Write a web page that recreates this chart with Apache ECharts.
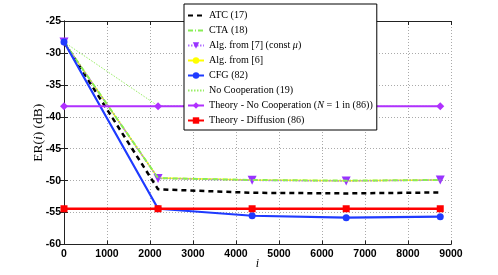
<!DOCTYPE html>
<html><head><meta charset="utf-8">
<script src="https://cdn.jsdelivr.net/npm/echarts@6/dist/echarts.min.js"></script>
<style>html,body{margin:0;padding:0;background:#fff}#c{width:498px;height:275px}</style>
</head><body><div id="c"></div>
<script>
const iterations = [0, 2187.5, 4375, 6562.5, 8750];
const atc = [-28.3, -51.35, -51.9, -52.0, -51.85];
const cta = [-28.3, -49.6, -49.9, -50.0, -49.9];
const alg7 = [-28.3, -49.65, -49.95, -50.05, -49.9];
const alg6 = [-28.3, -49.6, -49.9, -50.0, -49.9];
const cfg = [-28.3, -54.4, -55.5, -55.8, -55.65];
const noCoop = [-28.3, -38.3, -38.35, -38.35, -38.35];
const theoryNoCoop = [-38.35, -38.35, -38.35, -38.35, -38.35];
const theoryDiff = [-54.4, -54.4, -54.4, -54.4, -54.4];
const seriesNames = ['ATC (17)', 'CTA (18)', 'Alg. from [7] (const μ)', 'Alg. from [6]', 'CFG (82)', 'No Cooperation (19)', 'Theory - No Cooperation (N = 1 in (86))', 'Theory - Diffusion (86)'];
const xTicks = [0,1000,2000,3000,4000,5000,6000,7000,8000,9000];
const yTicks = [-60,-55,-50,-45,-40,-35,-30,-25];

const pts = arr => iterations.map((x,i)=>[x,arr[i]]);
const serifFont = '"Liberation Serif","DejaVu Serif",serif';
const tickFont = {fontFamily:'"Liberation Sans",Arial,sans-serif', fontWeight:'bold', fontSize:10.5, color:'#000'};

function mk(name, data, color, width, type, symbol, symbolSize, z){
  return {name, type:'line', data:pts(data), z, symbol: symbol||'circle', symbolSize: symbolSize||4,
    showSymbol: !!symbol, lineStyle:{color, width, type}, itemStyle:{color, borderWidth:0}, animation:false};
}
const series = [
  mk(seriesNames[0], atc, '#000000', 2.5, [5,4], null, 0, 2),
  mk(seriesNames[1], cta, '#88ee55', 2, [5,2,1,2], null, 0, 4),
  mk(seriesNames[2], alg7, '#b070ff', 1.5, [1.5,1.5], 'triangle', 9, 3),
  mk(seriesNames[3], alg6, '#ffff00', 1.5, 'solid', 'circle', 3, 1),
  mk(seriesNames[4], cfg, '#1f3bff', 2.2, 'solid', 'circle', 7, 5),
  mk(seriesNames[5], noCoop, '#99ee66', 1, [1.5,1.5], null, 0, 2),
  mk(seriesNames[6], theoryNoCoop, '#b030ff', 2.2, 'solid', 'diamond', 8, 6),
  mk(seriesNames[7], theoryDiff, '#ff0000', 2.5, 'solid', 'rect', 7, 7),
];
series[2].symbolRotate = 180;
series[2].itemStyle.color = '#9933ff';
const noMarker = [0,1,5];
const legendData = seriesNames.map((n,i)=> noMarker.includes(i) ? {name:n, itemStyle:{color:'rgba(0,0,0,0)', borderColor:'rgba(0,0,0,0)', borderWidth:0}} : {name:n});

const chart = echarts.init(document.getElementById('c'), null, {renderer:'canvas'});
chart.setOption({
  backgroundColor:'#fff',
  animation:false,
  grid:{left:64, top:21, right:47, bottom:30.5, containLabel:false, outerBoundsMode:'none'},
  legend:{
    z:50,
    data: legendData, orient:'vertical', left:184, top:4,
    padding:[5,4,3,3], itemGap:2, itemWidth:16, itemHeight:8,
    backgroundColor:'#fff', borderColor:'#000', borderWidth:1,
    textStyle:{fontFamily:serifFont, fontSize:10.1, color:'#000', lineHeight:13,
      rich:{it:{fontFamily:serifFont, fontSize:10.1, fontStyle:'italic', color:'#000'}}},
    formatter: n => n === seriesNames[6] ? 'Theory - No Cooperation ({it|N} = 1 in (86))' : (n===seriesNames[2] ? 'Alg. from [7] (const {it|μ})' : n)
  },
  xAxis:[{type:'value', min:0, max:9000, interval:1000,
    name:'i', nameLocation:'middle', nameGap:13, nameMoveOverlap:false,
    nameTextStyle:{fontFamily:serifFont, fontStyle:'italic', fontSize:12, color:'#000'},
    axisLine:{lineStyle:{color:'#222', width:1}}, axisTick:{inside:true, length:4, lineStyle:{color:'#222'}},
    axisLabel:Object.assign({margin:4, formatter: v => String(v)}, tickFont),
    splitLine:{show:true, lineStyle:{color:'#aaa', type:[1,2], width:1}}},
    {type:'value', position:'top', min:0, max:9000, interval:1000, axisLine:{show:true,lineStyle:{color:'#222'}},
    axisTick:{inside:true,length:4,lineStyle:{color:'#222'}}, axisLabel:{show:false}, splitLine:{show:false}}],
  yAxis:[{type:'value', min:-60, max:-25, interval:5,
    name:'{a|ER(}{b|i}{a|) (dB)}', nameLocation:'middle', nameGap:19, nameMoveOverlap:false,
    nameTextStyle:{rich:{a:{fontFamily:serifFont, fontSize:13.5, color:'#000'}, b:{fontFamily:serifFont, fontSize:13.5, fontStyle:'italic', color:'#000'}}},
    axisLine:{show:true, lineStyle:{color:'#222', width:1}}, axisTick:{show:true, inside:true, length:4, lineStyle:{color:'#222'}},
    axisLabel:Object.assign({margin:3, formatter: v => String(v)}, tickFont),
    splitLine:{show:true, lineStyle:{color:'#aaa', type:[1,2], width:1}}},
    {type:'value', position:'right', min:-60, max:-25, interval:5, axisLine:{show:true,lineStyle:{color:'#222'}},
    axisTick:{show:true,inside:true,length:4,lineStyle:{color:'#222'}}, axisLabel:{show:false}, splitLine:{show:false}}],
  series
});
</script></body></html>
